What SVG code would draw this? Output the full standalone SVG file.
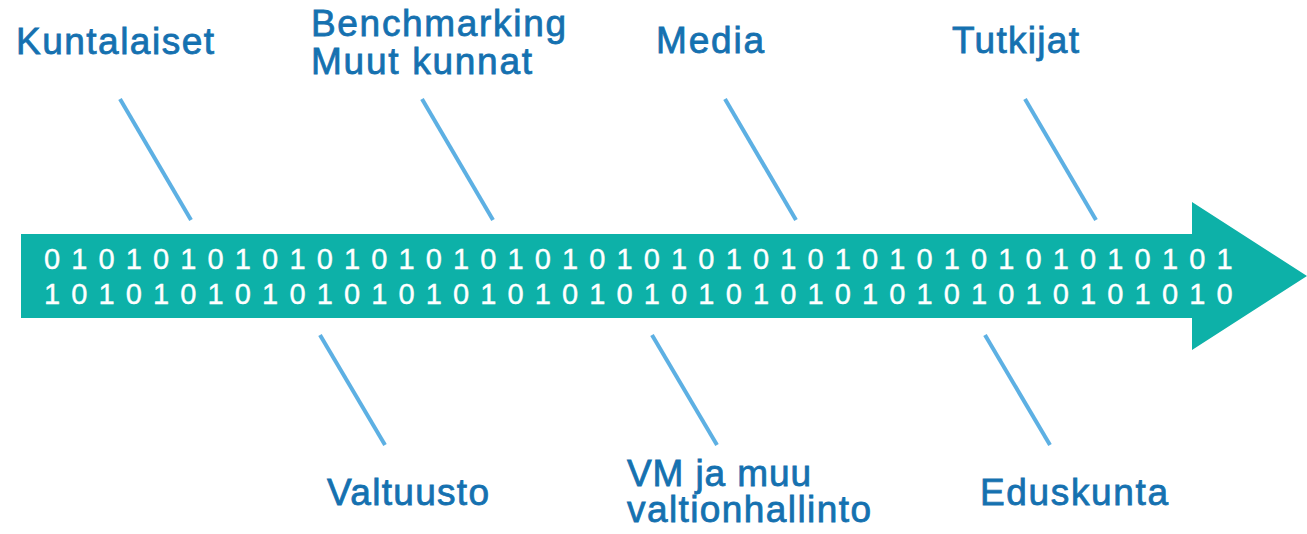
<svg xmlns="http://www.w3.org/2000/svg" width="1307" height="534" viewBox="0 0 1307 534">
<style>
.lbl{font-family:"Liberation Sans",Arial,Helvetica,sans-serif;font-size:37px;fill:#1571b0;stroke:#1571b0;stroke-width:0.8px;}
.bin{font-family:"Liberation Sans",Arial,Helvetica,sans-serif;font-size:29px;fill:#ffffff;stroke:#ffffff;stroke-width:0.4px;letter-spacing:1.54px;}
.con{stroke:#5db0e3;stroke-width:4;stroke-linecap:butt;fill:none;}
</style>
<rect width="1307" height="534" fill="#ffffff"/>
<g id="arrow">
<polygon points="21,234 1192,234 1192,202 1307,276 1192,350 1192,318 21,318" fill="#0db1a8"/>
<text class="bin" x="44" y="269">0 1 0 1 0 1 0 1 0 1 0 1 0 1 0 1 0 1 0 1 0 1 0 1 0 1 0 1 0 1 0 1 0 1 0 1 0 1 0 1 0 1 0 1</text>
<text class="bin" x="44" y="304">1 0 1 0 1 0 1 0 1 0 1 0 1 0 1 0 1 0 1 0 1 0 1 0 1 0 1 0 1 0 1 0 1 0 1 0 1 0 1 0 1 0 1 0</text>
</g>
<g id="connectors">
<line class="con" x1="120" y1="99" x2="191" y2="220"/>
<line class="con" x1="422" y1="99" x2="493" y2="220"/>
<line class="con" x1="725" y1="99" x2="796" y2="220"/>
<line class="con" x1="1025" y1="99" x2="1096" y2="220"/>
<line class="con" x1="320" y1="335" x2="385" y2="445"/>
<line class="con" x1="652" y1="335" x2="717" y2="445"/>
<line class="con" x1="985" y1="335" x2="1050" y2="445"/>
</g>
<g id="kuntalaiset"><text class="lbl" x="16" y="54" textLength="198" lengthAdjust="spacing">Kuntalaiset</text></g>
<g id="benchmarking">
<text class="lbl" x="311" y="36" textLength="255" lengthAdjust="spacing">Benchmarking</text>
<text class="lbl" x="311" y="74" textLength="221" lengthAdjust="spacing">Muut kunnat</text>
</g>
<g id="media"><text class="lbl" x="656" y="53" textLength="108" lengthAdjust="spacing">Media</text></g>
<g id="tutkijat"><text class="lbl" x="952" y="53" textLength="127" lengthAdjust="spacing">Tutkijat</text></g>
<g id="valtuusto"><text class="lbl" x="327" y="505" textLength="162" lengthAdjust="spacing">Valtuusto</text></g>
<g id="vm">
<text class="lbl" x="627" y="486" textLength="184" lengthAdjust="spacing">VM ja muu</text>
<text class="lbl" x="627" y="522" textLength="244" lengthAdjust="spacing">valtionhallinto</text>
</g>
<g id="eduskunta"><text class="lbl" x="980" y="505" textLength="188" lengthAdjust="spacing">Eduskunta</text></g>
</svg>
